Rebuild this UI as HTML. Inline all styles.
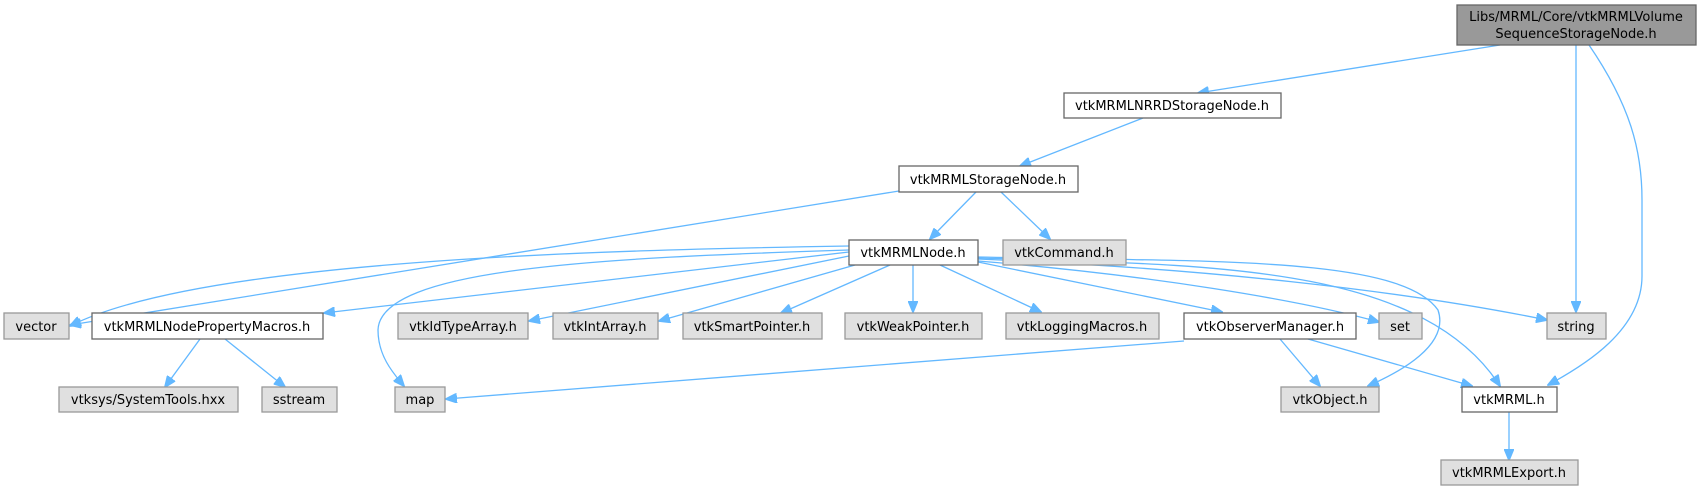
<!DOCTYPE html>
<html><head><meta charset="utf-8"><style>
html,body{margin:0;padding:0;background:#fff;}
svg{display:block;}
text{font-family:"DejaVu Sans","Liberation Sans",sans-serif;font-size:13px;fill:#000;text-anchor:middle;}
.e{fill:none;stroke:#63b8ff;stroke-width:1.3;marker-end:url(#a);}
.w{fill:#fff;stroke:#666;stroke-width:1.3;}
.g{fill:#e0e0e0;stroke:#999;stroke-width:1.3;}
.t{fill:#999;stroke:#666;stroke-width:1.3;}
</style></head><body>
<svg width="1701" height="491" viewBox="0 0 1701 491" xmlns="http://www.w3.org/2000/svg">
<defs><marker id="a" markerWidth="12" markerHeight="10" refX="11" refY="5" orient="auto" markerUnits="userSpaceOnUse"><path d="M0,0 L12,5 L0,10 z" fill="#63b8ff" stroke="#63b8ff"/></marker></defs>

<!-- edges -->
<path class="e" d="M1500,45 L1198,93"/>
<path class="e" d="M1576,45 L1576,312"/>
<path class="e" d="M1589,45 C1630,105 1642,150 1642,200 L1642,276 C1642,330 1585,365 1548,385"/>
<path class="e" d="M1143,118 L1020,166"/>
<path class="e" d="M976,192 L930,239"/>
<path class="e" d="M1001,192 L1050,239"/>
<path class="e" d="M899,191 L70,325"/>
<path class="e" d="M849,246 C600,250 200,260 70,326"/>
<path class="e" d="M849,252 L324,313"/>
<path class="e" d="M849,250 C600,258 380,268 378,330 C378,355 392,372 404,386"/>
<path class="e" d="M849,256 L529,321"/>
<path class="e" d="M855,265 L659,321"/>
<path class="e" d="M890,265 L781,313"/>
<path class="e" d="M913,265 L913,312"/>
<path class="e" d="M940,265 L1041,312"/>
<path class="e" d="M978,262 L1222,312"/>
<path class="e" d="M978,261 C1150,275 1300,300 1379,322"/>
<path class="e" d="M978,259 C1200,268 1400,290 1547,320"/>
<path class="e" d="M978,257 C1200,262 1400,255 1438,310 C1450,345 1400,372 1368,386"/>
<path class="e" d="M978,258 C1200,265 1420,262 1500,386"/>
<path class="e" d="M200,339 L165,387"/>
<path class="e" d="M225,339 L285,387"/>
<path class="e" d="M1184,341 L446,399"/>
<path class="e" d="M1280,339 L1320,386"/>
<path class="e" d="M1308,339 L1472,386"/>
<path class="e" d="M1509,412 L1509,460"/>

<!-- nodes -->
<rect class="t" x="1457" y="5" width="239" height="40"/>
<text x="1576" y="21">Libs/MRML/Core/vtkMRMLVolume</text>
<text x="1576" y="38">SequenceStorageNode.h</text>

<rect class="w" x="1064" y="93" width="217" height="25"/><text x="1172" y="110">vtkMRMLNRRDStorageNode.h</text>
<rect class="w" x="899" y="166" width="179" height="26"/><text x="988" y="184">vtkMRMLStorageNode.h</text>
<rect class="w" x="849" y="240" width="129" height="25"/><text x="913" y="257">vtkMRMLNode.h</text>
<rect class="g" x="1003" y="240" width="123" height="25"/><text x="1064" y="257">vtkCommand.h</text>

<rect class="g" x="4" y="313" width="65" height="26"/><text x="36" y="331">vector</text>
<rect class="w" x="92" y="313" width="231" height="26"/><text x="207" y="331">vtkMRMLNodePropertyMacros.h</text>
<rect class="g" x="398" y="313" width="130" height="26"/><text x="463" y="331">vtkIdTypeArray.h</text>
<rect class="g" x="553" y="313" width="105" height="26"/><text x="605" y="331">vtkIntArray.h</text>
<rect class="g" x="683" y="313" width="139" height="26"/><text x="752" y="331">vtkSmartPointer.h</text>
<rect class="g" x="845" y="313" width="137" height="26"/><text x="913" y="331">vtkWeakPointer.h</text>
<rect class="g" x="1006" y="313" width="153" height="26"/><text x="1082" y="331">vtkLoggingMacros.h</text>
<rect class="w" x="1184" y="313" width="172" height="26"/><text x="1270" y="331">vtkObserverManager.h</text>
<rect class="g" x="1379" y="313" width="43" height="26"/><text x="1400" y="331">set</text>
<rect class="g" x="1547" y="313" width="59" height="26"/><text x="1576" y="331">string</text>

<rect class="g" x="59" y="387" width="179" height="25"/><text x="148" y="404">vtksys/SystemTools.hxx</text>
<rect class="g" x="262" y="387" width="75" height="25"/><text x="299" y="404">sstream</text>
<rect class="g" x="395" y="387" width="50" height="25"/><text x="420" y="404">map</text>
<rect class="g" x="1281" y="387" width="98" height="25"/><text x="1330" y="404">vtkObject.h</text>
<rect class="w" x="1462" y="387" width="95" height="25"/><text x="1509" y="404">vtkMRML.h</text>
<rect class="g" x="1441" y="460" width="137" height="25"/><text x="1509" y="477">vtkMRMLExport.h</text>
</svg>
</body></html>
